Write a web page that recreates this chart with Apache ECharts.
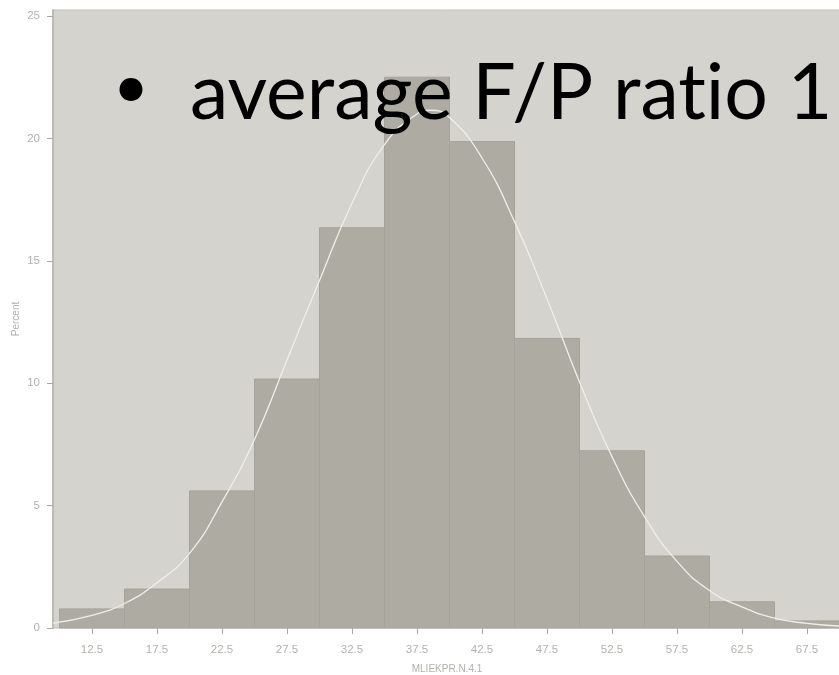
<!DOCTYPE html>
<html>
<head>
<meta charset="utf-8">
<script src="https://cdn.jsdelivr.net/npm/echarts@6/dist/echarts.min.js"></script>
<style>
html,body{margin:0;padding:0;background:#fff;}
#chart{width:839px;height:675px;}
</style>
</head>
<body>
<div id="chart"></div>
<script>
// Histogram bins (lower edge, upper edge) and percent values
const binStarts = [10, 15, 20, 25, 30, 35, 40, 45, 50, 55, 60, 65];
const binEnds   = [15, 20, 25, 30, 35, 40, 45, 50, 55, 60, 65, 70];
const percents  = [0.78, 1.59, 5.6, 10.17, 16.35, 22.5, 19.87, 11.83, 7.24, 2.94, 1.07, 0.29];

// Fitted curve
const curveX = [9.5, 12.5, 15, 17.5, 20, 22.5, 25, 27.5, 30, 32.5, 35, 37.5, 38.5, 40, 42.5, 45, 47.5, 50, 52.5, 55, 57.5, 60, 62.5, 65, 67.5, 70];
const curveY = [0.2, 0.52, 1.0, 1.85, 3.05, 5.15, 7.7, 10.95, 14.2, 17.35, 19.75, 21.0, 21.15, 20.85, 19.2, 16.6, 13.45, 10.05, 7.0, 4.55, 2.72, 1.53, 0.86, 0.4, 0.19, 0.08];

// Tick labels
const xTicks = [12.5, 17.5, 22.5, 27.5, 32.5, 37.5, 42.5, 47.5, 52.5, 57.5, 62.5, 67.5];
const yTicks = [0, 5, 10, 15, 20, 25];

const xName = 'MLIEKPR.N.4.1';
const yName = 'Percent';
const headline = 'average F/P rat\u200Cio 1';

const chart = echarts.init(document.getElementById('chart'), null, {renderer: 'canvas'});

const barData = binStarts.map((s, i) => [s, binEnds[i], percents[i]]);
const lineData = curveX.map((x, i) => [x, curveY[i]]);

const labelColor = '#b2b1ac';
const tickColor = '#a9a8a3';

chart.setOption({
  animation: false,
  backgroundColor: '#ffffff',
  grid: {
    left: 53, top: 10, width: 788, bottom: 47,
    outerBoundsMode: 'none',
    containLabel: false,
    show: true,
    backgroundColor: '#d4d3ce',
    borderColor: '#c3c1bb',
    borderWidth: 1
  },
  xAxis: {
    type: 'value',
    min: 9.5,
    max: 70.115,
    name: xName,
    nameLocation: 'middle',
    nameGap: 36,
    nameMoveOverlap: false,
    nameTextStyle: {color: labelColor, fontSize: 10, fontFamily: 'Liberation Sans'},
    axisLine: {show: false},
    axisTick: {show: true, customValues: xTicks, length: 6, lineStyle: {color: tickColor}},
    axisLabel: {customValues: xTicks, color: labelColor, fontSize: 11.5, fontFamily: 'Liberation Sans', margin: 16},
    splitLine: {show: false}
  },
  yAxis: {
    type: 'value',
    min: 0,
    max: 25.245,
    name: yName,
    nameLocation: 'middle',
    nameGap: 32,
    nameMoveOverlap: false,
    nameTextStyle: {color: labelColor, fontSize: 10, fontFamily: 'Liberation Sans'},
    axisLine: {show: true, lineStyle: {color: '#bcbab4', width: 2}},
    axisTick: {show: true, customValues: yTicks, length: 6, lineStyle: {color: tickColor}},
    axisLabel: {customValues: yTicks, color: labelColor, fontSize: 11.5, fontFamily: 'Liberation Sans', margin: 13},
    splitLine: {show: false}
  },
  series: [
    {
      type: 'custom',
      data: barData,
      encode: {x: [0, 1], y: 2},
      renderItem: function (params, api) {
        const p0 = api.coord([api.value(0), api.value(2)]);
        const p1 = api.coord([api.value(1), 0]);
        return {
          type: 'rect',
          shape: {x: p0[0], y: p0[1], width: p1[0] - p0[0], height: p1[1] - p0[1]},
          style: {fill: '#aeaba3', stroke: '#a5a29a', lineWidth: 1}
        };
      },
      z: 2
    },
    {
      type: 'line',
      data: lineData,
      smooth: true,
      showSymbol: false,
      symbol: 'none',
      lineStyle: {color: '#efeee9', width: 1.3},
      z: 3
    }
  ],
  graphic: [
    {
      type: 'text',
      left: 113, top: 57,
      z: 10,
      style: {text: '•', fontFamily: 'Lato', fontSize: 62, fill: '#000'}
    },
    {
      type: 'text',
      left: 190, top: 56,
      z: 10,
      style: {text: headline, fontFamily: 'Lato', fontSize: 77, fill: '#000'}
    }
  ]
});
</script>
</body>
</html>
